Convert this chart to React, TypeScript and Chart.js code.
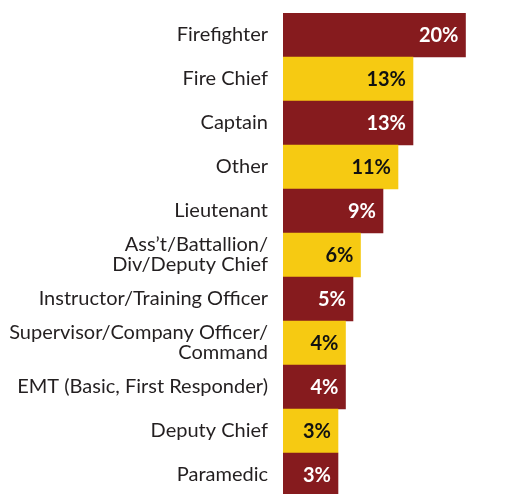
import React, { useEffect, useRef } from "react";
import { Chart, registerables } from "chart.js";

Chart.register(...registerables);

const categories: (string | string[])[] = [
  "Firefighter",
  "Fire Chief",
  "Captain",
  "Other",
  "Lieutenant",
  ["Ass\u2019t/Battallion/", "Div/Deputy Chief"],
  "Instructor/Training Officer",
  ["Supervisor/Company Officer/", "Command"],
  "EMT (Basic, First Responder)",
  "Deputy Chief",
  "Paramedic",
];

const values = [20, 13, 13, 11, 9, 6, 5, 4, 4, 3, 3];

const RED = "#861b1e";
const YELLOW = "#f6ca12";
const BASE = -4.33;

const valueLabelPlugin = {
  id: "valueLabels",
  afterDatasetsDraw(chart: any) {
    const ctx = chart.ctx;
    const meta = chart.getDatasetMeta(0);
    ctx.save();
    ctx.font = "bold 20px Lato";
    ctx.textAlign = "right";
    ctx.textBaseline = "middle";
    meta.data.forEach((bar: any, i: number) => {
      ctx.fillStyle = i % 2 === 0 ? "#ffffff" : "#111111";
      ctx.fillText(values[i] + "%", bar.x - 7, bar.y + 1);
    });
    ctx.restore();
  },
};

export default function App() {
  const ref = useRef<HTMLCanvasElement>(null);
  useEffect(() => {
    if (!ref.current) return;
    const chart = new Chart(ref.current, {
      type: "bar",
      data: {
        labels: categories,
        datasets: [
          {
            data: values,
            base: BASE,
            backgroundColor: values.map((_, i) => (i % 2 === 0 ? RED : YELLOW)),
            barPercentage: 1,
            categoryPercentage: 1,
            borderWidth: 0,
          } as any,
        ],
      },
      options: {
        indexAxis: "y",
        animation: false,
        responsive: false,
        maintainAspectRatio: false,
        layout: { padding: { top: 13, right: 0, bottom: 0, left: 0 } },
        plugins: { legend: { display: false }, tooltip: { enabled: false } },
        scales: {
          x: {
            display: false,
            min: BASE,
            max: BASE + 231 / 7.5,
          },
          y: {
            grid: { display: false, drawTicks: false },
            border: { display: false },
            ticks: {
              color: "#231f20",
              font: { family: "Lato", size: 20, lineHeight: 1.0 },
              padding: 15,
              autoSkip: false,
            },
            afterFit(scale: any) {
              scale.width = 283;
              scale.paddingTop = 0;
              scale.paddingBottom = 0;
            },
          },
        },
      },
      plugins: [valueLabelPlugin],
    });
    return () => chart.destroy();
  }, []);
  return (
    <div style={{ position: "fixed", left: 0, top: 0, width: 514, height: 497, background: "#fff" }}>
      <canvas ref={ref} width={514} height={497} style={{ display: "block" }} />
    </div>
  );
}
